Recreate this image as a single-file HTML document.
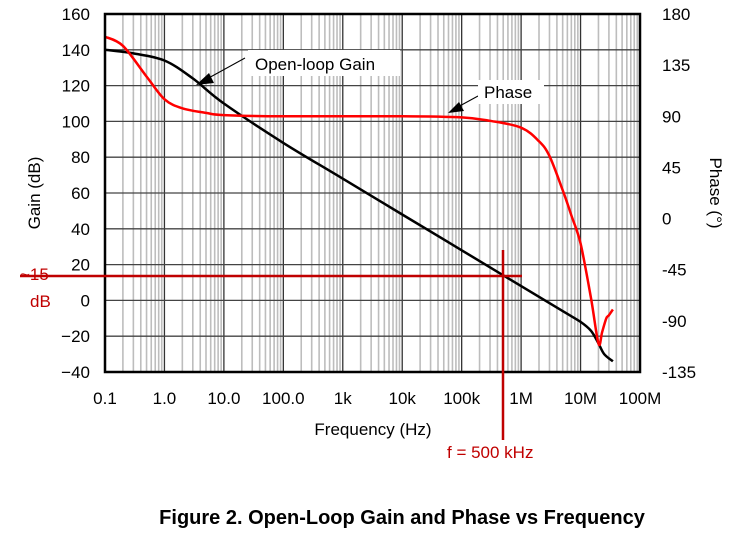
<!DOCTYPE html>
<html><head><meta charset="utf-8"><style>
body{margin:0;background:#fff;}
svg text{font-family:"Liberation Sans",Arial,sans-serif;}
</style></head><body>
<svg id="c" width="744" height="535" xmlns="http://www.w3.org/2000/svg">
<g id="grid"></g>
<g id="series"></g>
<g id="ax"></g>
</svg>
<script>
const gainFreq=[0.1,0.3,1,3,10,100,1e3,1e4,1e5,1e6,5e6,1e7,1.5e7,2e7,2.5e7,3.5e7];
const gainDb=[140,138,134,124,110,88,68,48,28,8,-6,-12,-17,-24,-30,-34];
const phaseFreq=[0.1,0.2,0.5,1,2,5,10,100,1e4,1e5,3e5,1e6,2e6,3e6,5e6,7e6,1e7,1.5e7,2e7,2.3e7,2.7e7,3e7,3.5e7];
const phaseDeg=[160,152,125,105,97,93,91,90,90,89,86,80,68,55,25,3,-22,-70,-110,-100,-88,-85,-80];
const xTickLabels=["0.1","1.0","10.0","100.0","1k","10k","100k","1M","10M","100M"];
const gainTicks=[160,140,120,100,80,60,40,20,0,-20,-40];
const phaseTicks=[180,135,90,45,0,-45,-90,-135];
const L=105,R=640,T=14,B=372,dec=(R-L)/9;
const xs=f=>L+dec*(Math.log10(f)+1);
const yg=d=>B-(d+40)*(B-T)/200;
const yp=p=>B-(p+135)*(B-T)/315;
const NS="http://www.w3.org/2000/svg";
function mk(tag,parent,at){const e=document.createElementNS(NS,tag);for(const k in at)e.setAttribute(k,at[k]);document.getElementById(parent).appendChild(e);return e;}
for(let d=-1;d<8;d++)for(let m=2;m<10;m++){const x=xs(m*Math.pow(10,d));
const l=mk('line','grid',{x1:x,x2:x,y1:T,y2:B,stroke:'#bdbdbd','stroke-width':1.6});

}
for(let d=0;d<8;d++){const x=xs(Math.pow(10,d));
const l=mk('line','grid',{x1:x,x2:x,y1:T,y2:B,stroke:'#333','stroke-width':1.3});

}
gainTicks.forEach(g=>{const y=yg(g);
const l=mk('line','grid',{x1:L,x2:R,y1:y,y2:y,stroke:'#444','stroke-width':1.3});


const t=mk('text','ax',{x:90,y:y+6,'text-anchor':'end','font-size':17});t.textContent=g<0?'\u2212'+(-g):g;

});
phaseTicks.forEach(p=>{const y=yp(p);
const t=mk('text','ax',{x:662,y:y+6,'text-anchor':'start','font-size':17});t.textContent=p;

});
xTickLabels.forEach((s,i)=>{const t=mk('text','ax',{x:L+dec*i,y:404,'text-anchor':'middle','font-size':17});t.textContent=s;

});
function path(fr,v,yf){
  const P=fr.map((f,i)=>[xs(f),yf(v[i])]);
  let d='M'+P[0][0].toFixed(1)+','+P[0][1].toFixed(1);
  for(let i=0;i<P.length-1;i++){
    const p0=P[Math.max(0,i-1)],p1=P[i],p2=P[i+1],p3=P[Math.min(P.length-1,i+2)];
    const c1=[p1[0]+(p2[0]-p0[0])/6,p1[1]+(p2[1]-p0[1])/6];
    const c2=[p2[0]-(p3[0]-p1[0])/6,p2[1]-(p3[1]-p1[1])/6];
    d+=' C'+c1[0].toFixed(1)+','+c1[1].toFixed(1)+' '+c2[0].toFixed(1)+','+c2[1].toFixed(1)+' '+p2[0].toFixed(1)+','+p2[1].toFixed(1);
  }
  return d;}
const g=mk('path','series',{d:path(gainFreq,gainDb,yg),fill:'none',stroke:'#000','stroke-width':2.5,'stroke-linejoin':'round'});


const p=mk('path','series',{d:path(phaseFreq,phaseDeg,yp),fill:'none',stroke:'#f00','stroke-width':2.5,'stroke-linejoin':'round'});


const fr=mk('rect','ax',{x:L,y:T,width:R-L,height:B-T,fill:'none',stroke:'#000','stroke-width':2.5});


</script>
<svg style="position:absolute;left:0;top:0" width="744" height="535" xmlns="http://www.w3.org/2000/svg">
<line x1="245" y1="58" x2="205" y2="80" stroke="#000" stroke-width="1"/>
<polygon points="196,85 209,73 214,83" fill="#000"/>
<rect x="248" y="50" width="152" height="26" fill="#fff"/>
<text x="255" y="70" font-size="17">Open-loop Gain</text>
<line x1="478" y1="96" x2="456" y2="108" stroke="#000" stroke-width="1"/>
<polygon points="448,113 459,102 464,111" fill="#000"/>
<rect x="478" y="80" width="66" height="24" fill="#fff"/>
<text x="484" y="98" font-size="17">Phase</text>
<line x1="20" y1="276" x2="522" y2="276" stroke="#c00000" stroke-width="2.5"/>
<line x1="503" y1="250" x2="503" y2="440" stroke="#c00000" stroke-width="2.5"/>
<text x="20" y="280" font-size="17" fill="#c00000">~15</text>
<text x="30" y="307" font-size="17" fill="#c00000">dB</text>
<text x="447" y="458" font-size="17" fill="#c00000">f = 500 kHz</text>
<text x="373" y="435" font-size="17" text-anchor="middle">Frequency (Hz)</text>
<text transform="translate(40,193) rotate(-90)" font-size="17" text-anchor="middle">Gain (dB)</text>
<text transform="translate(710,193) rotate(90)" font-size="17" text-anchor="middle">Phase (°)</text>
<text x="402" y="524" font-size="20" font-weight="bold" text-anchor="middle">Figure 2. Open-Loop Gain and Phase vs Frequency</text>
</svg>
</body></html>
